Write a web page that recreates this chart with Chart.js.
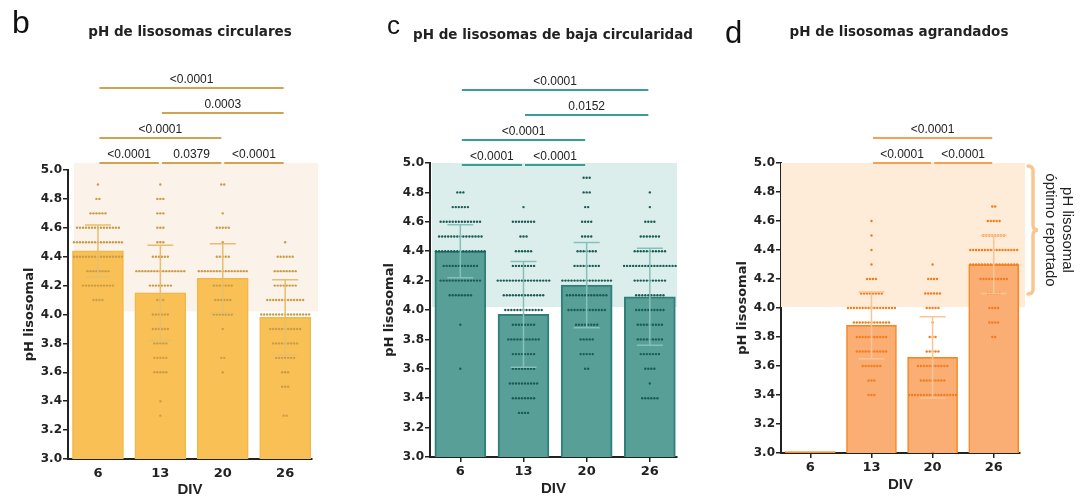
<!DOCTYPE html>
<html><head><meta charset="utf-8">
<script src="https://cdn.jsdelivr.net/npm/chart.js@4/dist/chart.umd.min.js"></script>
<style>
html,body{margin:0;padding:0;background:#fff;width:1082px;height:500px;overflow:hidden}
canvas{position:absolute;top:0}
</style></head><body>
<canvas id="cb" width="360" height="500" style="left:0px;width:360px;height:500px"></canvas>
<canvas id="cc" width="360" height="500" style="left:360px;width:360px;height:500px"></canvas>
<canvas id="cd" width="362" height="500" style="left:720px;width:362px;height:500px"></canvas>
<script>
// ---------- DATA ----------
const divLabels = ['6', '13', '20', '26'];
const yTickMin = 3.0, yTickMax = 5.0, yTickStep = 0.2;
const optimalRange = [4.0, 5.0];
const phLevels = [4.9,4.8,4.7,4.6,4.5,4.4,4.3,4.2,4.1,4.0,3.9,3.8,3.7,3.6,3.5,3.4,3.3,3.2,3.1,3.0];

// number of lysosomes at each pH level (rows follow phLevels), one row per DIV
const countsB = [
  [1,2,6,15,17,17,8,11,4,0,0,0,0,0,0,0,0,0,0,0],
  [1,3,3,3,3,6,17,8,3,6,6,5,5,5,0,1,1,0,0,0],
  [2,0,1,5,1,5,17,7,6,7,1,0,2,1,0,0,0,0,0,0],
  [0,0,0,0,1,6,8,8,13,17,11,9,7,3,3,0,2,0,0,0]
];
const countsC = [
  [0,3,6,14,15,17,12,14,8,0,1,0,0,1,0,0,0,0,0,0],
  [0,0,1,8,3,6,8,18,14,13,8,11,8,8,10,8,4,0,0,0],
  [3,3,2,4,4,7,9,17,14,13,8,5,5,2,0,0,0,0,0,0],
  [0,1,1,4,7,11,18,11,10,10,9,9,7,4,1,6,0,0,0,0]
];
const countsD = [
  [0,0,0,0,0,0,0,0,0,0,0,0,0,0,0,0,0,0,0,0],
  [0,0,0,1,1,1,1,4,8,17,13,11,11,7,3,3,0,0,0,0],
  [0,0,0,0,0,0,1,4,6,5,1,3,5,11,9,17,0,0,0,1],
  [0,0,2,5,8,17,17,10,5,4,4,2,0,0,0,0,0,0,0,0]
];

const meansB = [4.44, 4.15, 4.25, 3.98];
const sdB    = [0.18, 0.33, 0.24, 0.26];
const meansC = [4.40, 3.97, 4.17, 4.09];
const sdC    = [0.18, 0.36, 0.29, 0.33];
const meansD = [3.01, 3.88, 3.66, 4.30];
const sdD    = [null, 0.23, 0.28, 0.20];

// [from DIV index, to DIV index, p value, row]
const bracketsB = [[0,1,'<0.0001',0],[1,2,'0.0379',0],[2,3,'<0.0001',0],[0,2,'<0.0001',1],[1,3,'0.0003',2],[0,3,'<0.0001',3]];
const bracketsC = [[0,1,'<0.0001',0],[1,2,'<0.0001',0],[0,2,'<0.0001',1],[1,3,'0.0152',2],[0,3,'<0.0001',3]];
const bracketsD = [[1,2,'<0.0001',0],[2,3,'<0.0001',0],[1,3,'<0.0001',1]];

const panelLetters = ['b', 'c', 'd'];
const panelTitles = ['pH de lisosomas circulares', 'pH de lisosomas de baja circularidad', 'pH de lisosomas agrandados'];
const yTitle = 'pH lisosomal';
const xTitle = 'DIV';
const sideNote = ['pH lisosomal', 'óptimo reportado'];

// ---------- DRAWING ----------
const DOT_STEP = 0.048;
function dotPoints(counts) {
  const pts = [];
  counts.forEach((row, ci) => row.forEach((n, li) => {
    for (let k = 0; k < n; k++) pts.push({x: ci + (k - (n - 1) / 2) * DOT_STEP, y: phLevels[li]});
  }));
  return pts;
}

function makePanel(P) {
  const W = P.W, H = 500;
  const plugin = {
    id: 'deco' + P.id,
    beforeDatasetsDraw(chart) {
      const ctx = chart.ctx, ca = chart.chartArea, yS = chart.scales.y;
      ctx.save();
      ctx.fillStyle = P.shade;
      const yt = yS.getPixelForValue(optimalRange[1]) + P.shadeTop;
      const yb = yS.getPixelForValue(optimalRange[0]) + P.shadeBottom;
      ctx.fillRect(ca.left + P.shadeL, yt, ca.right + P.shadeR - ca.left - P.shadeL, yb - yt);
      ctx.restore();
    },
    afterDatasetsDraw(chart) {
      const ctx = chart.ctx, xS = chart.scales.x, yS = chart.scales.y;
      ctx.save();
      // error bars
      ctx.strokeStyle = P.errColor; ctx.lineWidth = 1.5;
      P.means.forEach((m, i) => {
        const s = P.sd[i];
        if (s == null) return;
        const x = xS.getPixelForValue(i);
        const yt = yS.getPixelForValue(m + s), yb = yS.getPixelForValue(m - s);
        ctx.beginPath();
        ctx.moveTo(x, yt); ctx.lineTo(x, yb);
        ctx.moveTo(x - 13, yt); ctx.lineTo(x + 13, yt);
        ctx.moveTo(x - 13, yb); ctx.lineTo(x + 13, yb);
        ctx.stroke();
      });
      // significance brackets
      const y5 = yS.getPixelForValue(yTickMax);
      P.brackets.forEach(([a, b, label, row]) => {
        const x1 = xS.getPixelForValue(a) + 1.5, x2 = xS.getPixelForValue(b) - 1.5;
        const y = y5 + P.bracketOff - row * 25;
        ctx.strokeStyle = P.bracketColor; ctx.lineWidth = 1.8;
        ctx.beginPath(); ctx.moveTo(x1, y); ctx.lineTo(x2, y); ctx.stroke();
        ctx.fillStyle = '#222';
        ctx.font = '12px "Liberation Sans", Arial, sans-serif';
        ctx.textAlign = 'center'; ctx.textBaseline = 'alphabetic';
        ctx.fillText(label, (x1 + x2) / 2, y - 5);
      });
      ctx.restore();
    },
    afterDraw(chart) {
      const ctx = chart.ctx;
      ctx.save();
      ctx.fillStyle = '#111';
      ctx.textBaseline = 'alphabetic';
      ctx.textAlign = 'left';
      ctx.font = P.letterSize + 'px "Liberation Sans", Arial, sans-serif';
      ctx.fillText(panelLetters[P.id], P.letterX, P.letterY);
      ctx.fillStyle = '#222';
      ctx.textAlign = 'center';
      ctx.font = 'bold 13.5px "DejaVu Sans", sans-serif';
      ctx.fillText(panelTitles[P.id], P.titleX, P.titleY);
      if (P.brace) {
        const yS = chart.scales.y, ca = chart.chartArea;
        const top = yS.getPixelForValue(optimalRange[1]) + 3;
        const bot = yS.getPixelForValue(optimalRange[0]) - 14;
        const mid = (top + bot) / 2;
        const bx = ca.right + 13;
        ctx.strokeStyle = '#F9C690'; ctx.lineWidth = 3.5; ctx.lineCap = 'round';
        ctx.beginPath();
        ctx.moveTo(bx - 5, top);
        ctx.quadraticCurveTo(bx, top, bx, top + 5);
        ctx.lineTo(bx, mid - 5);
        ctx.quadraticCurveTo(bx, mid, bx + 5, mid);
        ctx.quadraticCurveTo(bx, mid, bx, mid + 5);
        ctx.lineTo(bx, bot - 5);
        ctx.quadraticCurveTo(bx, bot, bx - 5, bot);
        ctx.stroke();
        ctx.fillStyle = '#222';
        ctx.font = '15px "Liberation Sans", Arial, sans-serif';
        ctx.textAlign = 'center'; ctx.textBaseline = 'middle';
        [[sideNote[0], ca.right + 47], [sideNote[1], ca.right + 30]].forEach(([t, x]) => {
          ctx.save(); ctx.translate(x, mid); ctx.rotate(Math.PI / 2); ctx.fillText(t, 0, 0); ctx.restore();
        });
      }
      ctx.restore();
    }
  };

  return new Chart(document.getElementById(P.canvas), {
    type: 'bar',
    data: {
      datasets: [
        {
          type: 'scatter', data: dotPoints(P.counts), order: 0,
          pointRadius: 1.2, pointBackgroundColor: P.dot, pointBorderWidth: 0, pointHoverRadius: 1.2
        },
        {
          type: 'bar', data: P.means.map((m, i) => ({x: i, y: m})), order: 1,
          backgroundColor: P.barFill, borderColor: P.barBorder, borderWidth: P.barBorderW,
          barThickness: P.barW, borderSkipped: false
        }
      ]
    },
    options: {
      responsive: false, animation: false, devicePixelRatio: 1,
      layout: {padding: {top: P.top, right: W - P.right, left: 0, bottom: 0}},
      plugins: {legend: {display: false}, tooltip: {enabled: false}},
      scales: {
        x: {
          type: 'linear', min: -0.48, max: 3.43, offset: false,
          afterBuildTicks: s => { s.ticks = divLabels.map((_, i) => ({value: i})); },
          afterFit: s => { s.height = H - P.bottom; },
          grid: {offset: false, drawOnChartArea: false, drawTicks: P.xTicks, tickLength: 5, color: '#222', lineWidth: 1.5},
          border: {display: true, color: '#222', width: 2},
          ticks: {
            callback: v => divLabels[v], autoSkip: false, maxRotation: 0,
            font: {family: 'DejaVu Sans', weight: 'bold', size: 13}, color: '#222', padding: P.xTickPad
          },
          title: {display: true, text: xTitle, color: '#222',
            font: {family: 'Liberation Sans', weight: 'bold', size: 15}, padding: {top: 0, bottom: P.xTitlePad}}
        },
        y: {
          min: yTickMin, max: yTickMax,
          afterFit: s => { s.width = P.left; },
          grid: {drawOnChartArea: false, tickLength: 5, color: '#222', lineWidth: 1.5},
          border: {display: true, color: '#222', width: 2},
          ticks: {
            stepSize: yTickStep, callback: v => Number(v).toFixed(1),
            font: {family: 'DejaVu Sans', weight: 'bold', size: 12}, color: '#222', padding: 1
          },
          title: {display: true, text: yTitle, color: '#222',
            font: {family: 'DejaVu Sans', weight: 'bold', size: 13}, padding: {top: P.yTitlePad, bottom: 0}}
        }
      }
    },
    plugins: [plugin]
  });
}

makePanel({
  id: 0, canvas: 'cb', W: 360, left: 68, right: 312, top: 170, bottom: 459,
  counts: countsB, means: meansB, sd: sdB, brackets: bracketsB,
  barFill: '#F9C155', barBorder: '#F3B749', barBorderW: 1.5, barW: 51,
  dot: '#CB9C48', errColor: '#E8BE6E', bracketColor: '#D2A24E', shade: '#FBF3EA',
  shadeL: 6, shadeR: 6, shadeTop: -7, shadeBottom: -3, bracketOff: -7,
  xTicks: false, xTickPad: 7, xTitlePad: 1, yTitlePad: 22,
  letterX: 12, letterY: 33, letterSize: 32, titleX: 190, titleY: 36
});
makePanel({
  id: 1, canvas: 'cc', W: 360, left: 70, right: 317, top: 163, bottom: 457,
  counts: countsC, means: meansC, sd: sdC, brackets: bracketsC,
  barFill: '#589F98', barBorder: '#2F8078', barBorderW: 2, barW: 51,
  dot: '#1C5C56', errColor: '#86C0BB', bracketColor: '#3A9D96', shade: '#DCEEEC',
  shadeL: 2, shadeR: 0, shadeTop: 0, shadeBottom: -3, bracketOff: 2,
  xTicks: true, xTickPad: 2, xTitlePad: 2, yTitlePad: 22,
  letterX: 27, letterY: 34, letterSize: 26, titleX: 193, titleY: 39
});
makePanel({
  id: 2, canvas: 'cd', W: 362, left: 61, right: 300, top: 163, bottom: 453,
  counts: countsD, means: meansD, sd: sdD, brackets: bracketsD,
  barFill: '#FAAE74', barBorder: '#F7851F', barBorderW: 1.5, barW: 50,
  dot: '#F57C1C', errColor: '#F9C595', bracketColor: '#F5A055', shade: '#FEEBD8',
  shadeL: 0, shadeR: 5, shadeTop: 0, shadeBottom: -1, bracketOff: 0,
  xTicks: true, xTickPad: 2, xTitlePad: 6, yTitlePad: 15,
  letterX: 5, letterY: 43, letterSize: 31, titleX: 179, titleY: 36, brace: true
});
</script>
</body></html>
